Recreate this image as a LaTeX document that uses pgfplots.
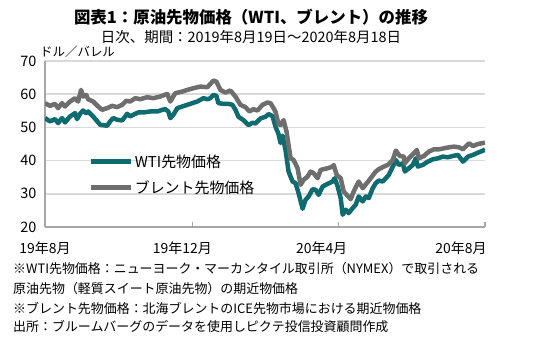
\documentclass[border=0pt]{standalone}
\usepackage{fontspec}
\setmainfont{Noto Sans CJK JP}
\usepackage{pgfplots}
\pgfplotsset{compat=1.18}
\definecolor{wti}{HTML}{0E6B6F}
\definecolor{brent}{HTML}{6E6E6E}
\definecolor{gridc}{HTML}{D9D9D9}
\definecolor{axc}{HTML}{A6A6A6}
\begin{document}
\begin{tikzpicture}[x=1bp,y=1bp]
\useasboundingbox (-45,-119) rectangle (505,227);
\begin{axis}[
  at={(0,0)}, anchor=south west,
  scale only axis, width=440bp, height=166bp,
  xmin=0, xmax=439, ymin=20, ymax=70,
  axis lines*=left,
  axis line style={-, axc, line width=1.5bp},
  ytick={20,30,40,50,60,70},
  ymajorgrids,
  grid style={gridc, line width=1.5bp},
  ytick style={draw=none},
  yticklabel style={font=\fontsize{14.5}{14.5}\selectfont, xshift=-5bp},
  /pgf/number format/assume math mode=true,
  xtick={0,147,293,439}, xticklabels={},
  xtick style={axc, line width=1.2bp},
  tick align=inside, major tick length=5bp,
  extra x ticks={0,137,276,415},
  extra x tick labels={19年8月,19年12月,20年4月,20年8月},
  extra x tick style={tick style={draw=none}, xticklabel style={font=\fontsize{14}{14}\selectfont, yshift=-11bp}},
  legend style={at={(0.098,0.45)}, anchor=north west, draw=none, fill=none,
    font=\fontsize{15}{15}\selectfont, row sep=8bp, inner sep=0pt},
  legend cell align=left,
  legend image code/.code={\draw[#1] (0bp,0bp) -- (40bp,0bp);},
]
\addplot[wti, line width=4.5bp, line join=round] coordinates {
(0,52.8)(5,51.8)(10,52.5)(13,51.3)(17,52.8)(20,51.5)(25,53.3)(30,54.3)(32,52.5)(35,54.1)(38,55.1)(41,54.3)(43,54.8)(48,53.3)(55,50.8)(62,50.5)(65,51.8)(68,52.8)(72,52.3)(77,52.1)(82,54.1)(85,53.3)(88,53.8)(93,54.5)(98,54.5)(105,54.8)(112,54.8)(117,55.3)(120,55.5)(123,54.8)(125,52.8)(128,53.8)(132,55.8)(137,56.3)(142,56.8)(147,57.3)(152,57.8)(155,58.3)(158,58.8)(162,58.5)(165,58.8)(168,59.8)(171,59.5)(173,57.3)(178,57.1)(183,57.1)(187,56.8)(190,55.3)(193,53.2)(198,52.2)(203,50.7)(207,51.4)(210,51.2)(215,52.7)(220,53.2)(223,54)(227,53.4)(230,50.2)(233,48)(235,45.3)(237,47.5)(240,43.2)(243,36.7)(247,33.7)(250,33.2)(253,30.2)(257,25.5)(260,28.2)(263,29.2)(267,31.4)(270,31.2)(273,29.7)(277,32.2)(282,33)(287,33.7)(289,34.7)(292,32.2)(295,28.7)(297,23.7)(300,25.2)(303,24.2)(307,25.7)(310,26.7)(313,29.2)(317,27.7)(320,29.2)(323,28.7)(327,31.7)(330,33.2)(333,34)(337,33.7)(340,34.7)(343,35.7)(347,38.2)(350,40.2)(353,38.7)(357,39.2)(359,36.7)(363,37.7)(367,38.7)(370,40.7)(372,38.2)(377,38.7)(382,39.7)(387,40.4)(392,40.7)(397,41.2)(402,41)(407,41.4)(412,41.7)(417,39.7)(422,41.2)(427,41.7)(432,42.4)(437,43)(439,43.4)
};
\addlegendentry{WTI先物価格}
\addplot[brent, line width=4.5bp, line join=round] coordinates {
(0,57.3)(5,56.5)(10,57.1)(13,55.8)(17,57.3)(20,56.3)(25,57.8)(30,58.8)(33,57.8)(36,61.3)(38,59.3)(41,59.8)(43,58.5)(48,57.8)(53,56.3)(57,55.3)(62,55.8)(67,56.5)(72,56.1)(77,56.8)(81,58)(85,57.8)(90,58.8)(95,58.5)(102,59.1)(108,58.8)(115,59.3)(122,60.1)(125,57.8)(130,60.3)(137,60.8)(142,61.3)(148,61.8)(155,62.3)(162,62.1)(168,64.1)(171,63.8)(175,61.3)(180,60.5)(185,61.1)(190,59.3)(195,56.8)(200,56.1)(204,54.8)(208,55.5)(212,55.1)(217,56.8)(222,57.5)(225,57.3)(228,55.8)(230,54.7)(233,51)(235,50.7)(238,52.2)(241,48.7)(245,40.7)(248,40.2)(252,37.7)(255,32.7)(258,34.2)(262,35.2)(265,36.7)(268,36.2)(272,34.7)(275,37.2)(282,37.7)(287,38.2)(288,38.7)(291,35.7)(295,34.7)(298,30.7)(301,29.7)(305,28.4)(308,30.7)(313,33.7)(317,31.7)(321,33.2)(325,34.7)(330,36.7)(333,37.4)(338,38.2)(342,38.7)(347,40.2)(350,43)(354,41.4)(358,41.2)(359,39.2)(363,40.7)(368,42.2)(371,43.2)(373,40.7)(378,41.4)(383,42.7)(388,43.4)(393,43.4)(398,43.7)(403,44)(408,44.2)(413,44)(417,43.4)(423,45.2)(427,44.4)(432,45)(439,45.4)
};
\addlegendentry{ブレント先物価格}
\end{axis}
\node[font=\bfseries\fontsize{16.5}{16.5}\selectfont] at (206,210) {図表1：原油先物価格（WTI、ブレント）の推移};
\node[font=\fontsize{14.5}{14.5}\selectfont] at (206,190) {日次、期間：2019年8月19日～2020年8月18日};
\node[font=\fontsize{12.5}{12.5}\selectfont, anchor=west, inner sep=0pt] at (-5,175) {ドル／バレル};
\begin{scope}[every node/.style={anchor=west, inner sep=0pt, font=\fontsize{13}{13}\selectfont}]
\node at (-32,-42) {※WTI先物価格：ニューヨーク・マーカンタイル取引所（NYMEX）で取引される};
\node at (-32,-62) {原油先物（軽質スイート原油先物）の期近物価格};
\node at (-32,-81) {※ブレント先物価格：北海ブレントのICE先物市場における期近物価格};
\node at (-32,-100) {出所：ブルームバーグのデータを使用しピクテ投信投資顧問作成};
\end{scope}
\end{tikzpicture}
\end{document}
